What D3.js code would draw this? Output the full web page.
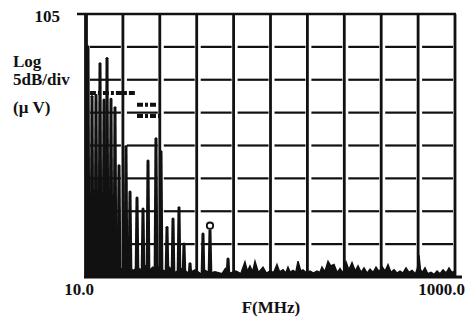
<!DOCTYPE html>
<html>
<head>
<meta charset="utf-8">
<script src="https://cdn.jsdelivr.net/npm/d3@7"></script>
<style>
  html, body { margin: 0; padding: 0; background: #fff; }
  svg { display: block; }
  .lbl { font-family: "Liberation Serif", "DejaVu Serif", serif; font-weight: bold; fill: #111; }
</style>
</head>
<body>
<svg id="chart"></svg>
<script>
// values (frequency in MHz, level in dBuV)
const spikeFreq  = [10.25, 10.78, 11.33, 11.91, 12.52, 13.00, 13.66, 14.36, 15.10,
                    16.47, 17.32, 18.90, 20.37, 21.68, 23.95, 25.50, 27.48, 29.62, 31.92, 33.97,
                    36.62, 43.06, 46.99, 58.85];
const spikeLevel = [100.3, 92.7, 92.9, 97.7, 92.2, 98.5, 92.3, 91.0, 82.2,
                    85.1, 78.2, 77.3, 75.6, 82.9, 86.3, 84.3, 72.8, 74.1, 75.8, 70.3,
                    67.3, 71.8, 72.3, 68.0];

const floorFreq  = [10, 10.5, 11, 12, 13, 14, 15, 16, 17, 18, 19, 20, 21, 22, 23, 24, 25, 26,
                    26.8, 28, 30.4, 33, 36, 39, 42, 44.2, 47, 50, 54.6, 57, 60.3, 65, 69, 72.7,
                    75, 77.4, 80, 82.4, 86, 91.1, 95, 99.4, 104, 108.4, 112, 116.9, 121, 124.4,
                    128, 132.4, 137, 141, 146, 150, 157, 163.7, 171, 178.6, 185, 190.1, 197, 205,
                    212, 220.9, 230, 238.1, 247, 256.6, 266, 276.6, 288, 298.1, 310, 321.3, 334,
                    346.3, 360, 373.2, 388, 402.2, 418, 433.5, 450, 467.2, 485, 503.5, 522, 542.7,
                    563, 584.9, 610, 625, 638.3, 650, 665, 687.9, 712, 741.4, 770, 799.1, 830,
                    861.2, 895, 928.1, 960, 1000];
const floorLevel = [66.4, 66.0, 66.6, 66.1, 66.7, 66.0, 66.5, 66.1, 66.6, 66.0, 66.4, 66.1, 66.7, 66.0, 66.5, 66.2, 66.6, 66.1,
                    65.9, 66.6, 65.7, 66.3, 65.6, 66.1, 65.5, 66.0, 65.6, 65.8, 65.5, 66.3, 65.6, 65.9, 65.5, 67.3,
                    65.9, 66.7, 65.8, 67.4, 65.7, 66.5, 65.6, 65.9, 65.7, 66.9, 65.8, 66.1, 65.6, 66.5,
                    65.7, 66.0, 65.7, 67.4, 65.9, 66.1, 65.6, 65.9, 65.6, 65.9, 65.7, 66.5, 65.8, 67.4,
                    66.7, 66.9, 65.7, 66.3, 65.6, 67.3, 66.1, 67.2, 65.9, 66.7, 65.7, 66.4, 65.6,
                    66.2, 65.7, 66.5, 65.8, 66.6, 65.9, 66.9, 65.7, 66.1, 65.6, 65.9, 65.6, 66.4,
                    65.7, 66.0, 65.5, 66.3, 68.3, 66.1, 65.7, 66.4, 65.5, 65.7, 65.4, 65.9, 65.5,
                    66.1, 65.6, 66.4, 65.7, 65.9];

// marker readout bars on the screen: [from MHz, to MHz, level]
const readoutBars = [[10.5, 18.4, 93.0], [18.9, 24.0, 91.2], [18.9, 26.1, 89.5]];
const markerFreq = [46.99];
const markerLevel = [72.8];

const yTicks = [65, 70, 75, 80, 85, 90, 95, 100, 105];
const xDecades = [10, 1000];
const xTickLabels = ["10.0", "1000.0"];
const xDivisions = 10;
const yTopLabel = "105";
const yUnitLines = ["Log", "5dB/div", "(\u03bc V)"];
const xTitle = "F(MHz)";

const width = 465, height = 322;
const margin = { top: 14, right: 10, bottom: 45, left: 86 };

const svg = d3.select("#chart").attr("width", width).attr("height", height);

const x = d3.scaleLog().domain(xDecades).range([margin.left, width - margin.right]);
const y = d3.scaleLinear().domain([yTicks[0], yTicks[yTicks.length - 1]])
  .range([height - margin.bottom, margin.top]);

// grid divisions in log space
const gridFreqs = d3.range(xDivisions + 1).map(i =>
  Math.pow(10, Math.log10(xDecades[0]) + i * (Math.log10(xDecades[1]) - Math.log10(xDecades[0])) / xDivisions));

const grid = svg.append("g");

// horizontal lines: broken between the verticals like the scan
yTicks.slice(1, -1).forEach(v => {
  for (let i = 0; i < xDivisions; i++) {
    grid.append("line")
      .attr("x1", x(gridFreqs[i]) + 4).attr("x2", x(gridFreqs[i + 1]) - 2)
      .attr("y1", y(v)).attr("y2", y(v))
      .attr("stroke", "#111").attr("stroke-width", 2.2);
  }
});

grid.selectAll("line.v")
  .data(gridFreqs)
  .join("line")
  .attr("class", "v")
  .attr("x1", d => x(d)).attr("x2", d => x(d))
  .attr("y1", y(105)).attr("y2", y(65))
  .attr("stroke", "#111")
  .attr("stroke-width", (d, i) => i === 0 ? 3.8 : 2.8);

// top and bottom frame
grid.append("line")
  .attr("x1", margin.left - 9).attr("x2", x(1000) + 1)
  .attr("y1", y(105)).attr("y2", y(105))
  .attr("stroke", "#111").attr("stroke-width", 2.6);
grid.append("line")
  .attr("x1", margin.left - 2).attr("x2", x(1000) + 7)
  .attr("y1", y(65)).attr("y2", y(65))
  .attr("stroke", "#111").attr("stroke-width", 3.2);

// noise floor trace
const floorPts = floorFreq.map((f, i) => [f, floorLevel[i]]);
const area = d3.area()
  .x(d => x(d[0]))
  .y0(y(65))
  .y1(d => y(d[1]))
  .curve(d3.curveLinear);
svg.append("path")
  .datum(floorPts)
  .attr("d", area)
  .attr("fill", "#111")
  .attr("stroke", "#111")
  .attr("stroke-width", 1.4);

// spectrum spikes
const spikes = spikeFreq.map((f, i) => ({ f, v: spikeLevel[i] }));
svg.append("g")
  .selectAll("path")
  .data(spikes)
  .join("path")
  .attr("fill", "#111")
  .attr("d", d => {
    const cx = x(d.f), top = y(d.v), base = y(65);
    return `M${cx - 2.4},${base} L${cx - 1.5},${top + 1.5} Q${cx},${top - 1} ${cx + 1.5},${top + 1.5} L${cx + 2.4},${base} Z`;
  });

// readout bars (dashed on the screen)
svg.append("g")
  .selectAll("line")
  .data(readoutBars)
  .join("line")
  .attr("x1", d => x(d[0]))
  .attr("x2", d => x(d[1]))
  .attr("y1", d => y(d[2]))
  .attr("y2", d => y(d[2]))
  .attr("stroke", "#111")
  .attr("stroke-width", 4)
  .attr("stroke-dasharray", "6,2,3,2");

// marker circle
svg.append("g")
  .selectAll("circle")
  .data(markerFreq)
  .join("circle")
  .attr("cx", d => x(d))
  .attr("cy", (d, i) => y(markerLevel[i]))
  .attr("r", 3.2)
  .attr("fill", "#fff")
  .attr("stroke", "#111")
  .attr("stroke-width", 1.8);

// texts
svg.append("text").attr("class", "lbl")
  .attr("x", 60).attr("y", y(105) + 8)
  .attr("text-anchor", "end").attr("font-size", 17)
  .text(yTopLabel);

svg.selectAll("text.unit")
  .data(yUnitLines)
  .join("text")
  .attr("class", "lbl unit")
  .attr("x", 13)
  .attr("y", (d, i) => [67, 85, 113][i])
  .attr("font-size", 17)
  .text(d => d);

svg.selectAll("text.xt")
  .data(xDecades)
  .join("text")
  .attr("class", "lbl xt")
  .attr("x", (d, i) => i === 0 ? x(d) - 7 : x(d) + 10)
  .attr("y", 295)
  .attr("text-anchor", (d, i) => i === 0 ? "middle" : "end")
  .attr("font-size", 17)
  .text((d, i) => xTickLabels[i]);

svg.append("text").attr("class", "lbl")
  .attr("x", 271).attr("y", 313)
  .attr("text-anchor", "middle").attr("font-size", 17)
  .text(xTitle);
</script>
</body>
</html>
